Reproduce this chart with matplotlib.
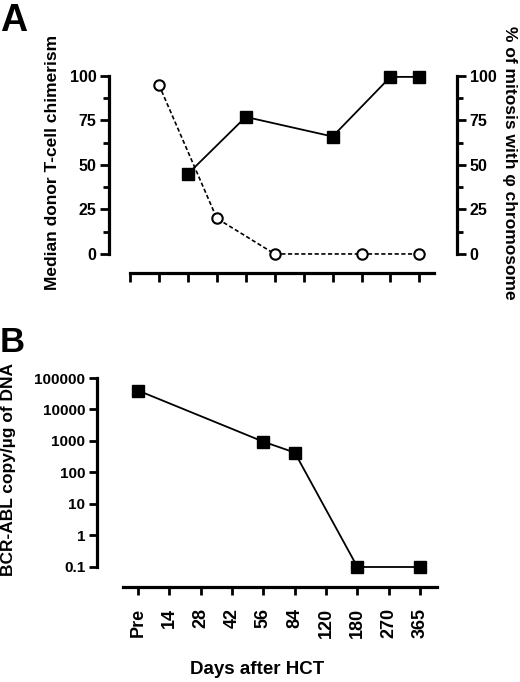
import matplotlib
matplotlib.use("Agg")
import matplotlib.pyplot as plt
from matplotlib.ticker import FixedLocator, NullFormatter

plt.rcParams["font.family"] = ["Liberation Sans", "DejaVu Sans"]
plt.rcParams["font.weight"] = "bold"

# panel A
a_ticks = list(range(11))
chim_x = [2, 4, 7, 9, 10]
chim_y = [45, 77, 66, 99.5, 99.5]
mito_x = [1, 3, 5, 8, 10]
mito_y = [95, 20, 0, 0, 0]
a_yticks = [0, 25, 50, 75, 100]
a_minor = [12.5, 37.5, 62.5, 87.5]

# panel B
days = ["Pre", "14", "28", "42", "56", "84", "120", "180", "270", "365"]
bcr_x = ["Pre", "56", "84", "180", "365"]
bcr_y = [40000, 950, 430, 0.1, 0.1]
b_yticks = [0.1, 1, 10, 100, 1000, 10000, 100000]

W, H = 520, 682
fig = plt.figure(figsize=(W / 100, H / 100), dpi=100)

lw_axis = 2.3

# ---- A ----
axA = fig.add_axes([109 / W, 1 - 273 / H, (457 - 109) / W, (273 - 76) / H])
axA.set_xlim(-0.727, 11.3)
axA.set_ylim(-10.7, 100)
axA.plot(chim_x, chim_y, color="black", lw=1.3, marker="s", ms=8,
         clip_on=False, zorder=3)
axA2 = axA.twinx()
axA2.set_ylim(-10.7, 100)
axA2.plot(mito_x, mito_y, color="black", lw=1.2, ls=(0, (2.5, 1.5)),
          marker="o", ms=7.5, mfc="white", mec="black", mew=1.5,
          clip_on=False, zorder=3)

for ax in (axA, axA2):
    for s in ax.spines.values():
        s.set_linewidth(lw_axis)
    ax.spines["top"].set_visible(False)
    ax.spines["left"].set_bounds(0, 100)
    ax.spines["right"].set_bounds(0, 100)
    ax.spines["bottom"].set_bounds(0, 10.5)
    ax.set_yticks(a_yticks)
    ax.yaxis.set_minor_locator(FixedLocator(a_minor))
    ax.tick_params(width=2.0, length=6.5, labelsize=11.5, pad=2.5)
    ax.tick_params(axis="y", which="minor", width=2.0, length=4)
    for t in ax.get_yticklabels():
        t.set_fontweight("bold")

axA.spines["right"].set_visible(False)
axA2.spines["left"].set_visible(False)
axA2.spines["bottom"].set_visible(False)
axA.set_xticks(a_ticks)
axA.set_xticklabels([])

fig.text(53 / W, 1 - 162 / H, "Median donor T-cell chimerism", rotation=90,
         ha="center", va="center", fontsize=12.5, fontweight="bold")
fig.text(510 / W, 1 - 163 / H, "% of mitosis with φ chromosome", rotation=270,
         ha="center", va="center", fontsize=12.5, fontweight="bold")
fig.text(0 / W, 1 - 31 / H, "A", ha="left", va="baseline", fontsize=27,
         fontweight="bold")

# ---- B ----
axB = fig.add_axes([97 / W, 1 - 587 / H, (437 - 97) / W, (587 - 378) / H])
axB.set_yscale("log")
axB.set_xlim(-1.31, 9.54)
axB.set_ylim(10 ** -1.635, 1e5)
xpos = [days.index(d) for d in bcr_x]
axB.plot(xpos, bcr_y, color="black", lw=1.3, marker="s", ms=8,
         clip_on=False, zorder=3)
for s in axB.spines.values():
    s.set_linewidth(lw_axis)
axB.spines["top"].set_visible(False)
axB.spines["right"].set_visible(False)
axB.spines["left"].set_bounds(0.1, 1e5)
axB.spines["bottom"].set_bounds(-0.48, 9.54)
axB.set_yticks(b_yticks)
axB.set_yticklabels(["0.1", "1", "10", "100", "1000", "10000", "100000"])
axB.yaxis.set_minor_formatter(NullFormatter())
axB.tick_params(axis="y", which="minor", length=0)
axB.set_xticks(range(len(days)))
axB.set_xticklabels(days, rotation=90)
axB.tick_params(width=2.0, length=6)
axB.tick_params(axis="y", labelsize=11, pad=2.5)
axB.tick_params(axis="x", labelsize=13, pad=9)
for t in axB.get_xticklabels() + axB.get_yticklabels():
    t.set_fontweight("bold")
fig.text(257 / W, 1 - 670 / H, "Days after HCT", ha="center", va="center",
         fontsize=13.5, fontweight="bold")

fig.text(9 / W, 1 - 470 / H, "BCR-ABL copy/µg of DNA", rotation=90,
         ha="center", va="center", fontsize=12.5, fontweight="bold")
fig.text(0 / W, 1 - 352 / H, "B", ha="left", va="baseline", fontsize=25,
         fontweight="bold")

fig.savefig("out.png", dpi=100)
